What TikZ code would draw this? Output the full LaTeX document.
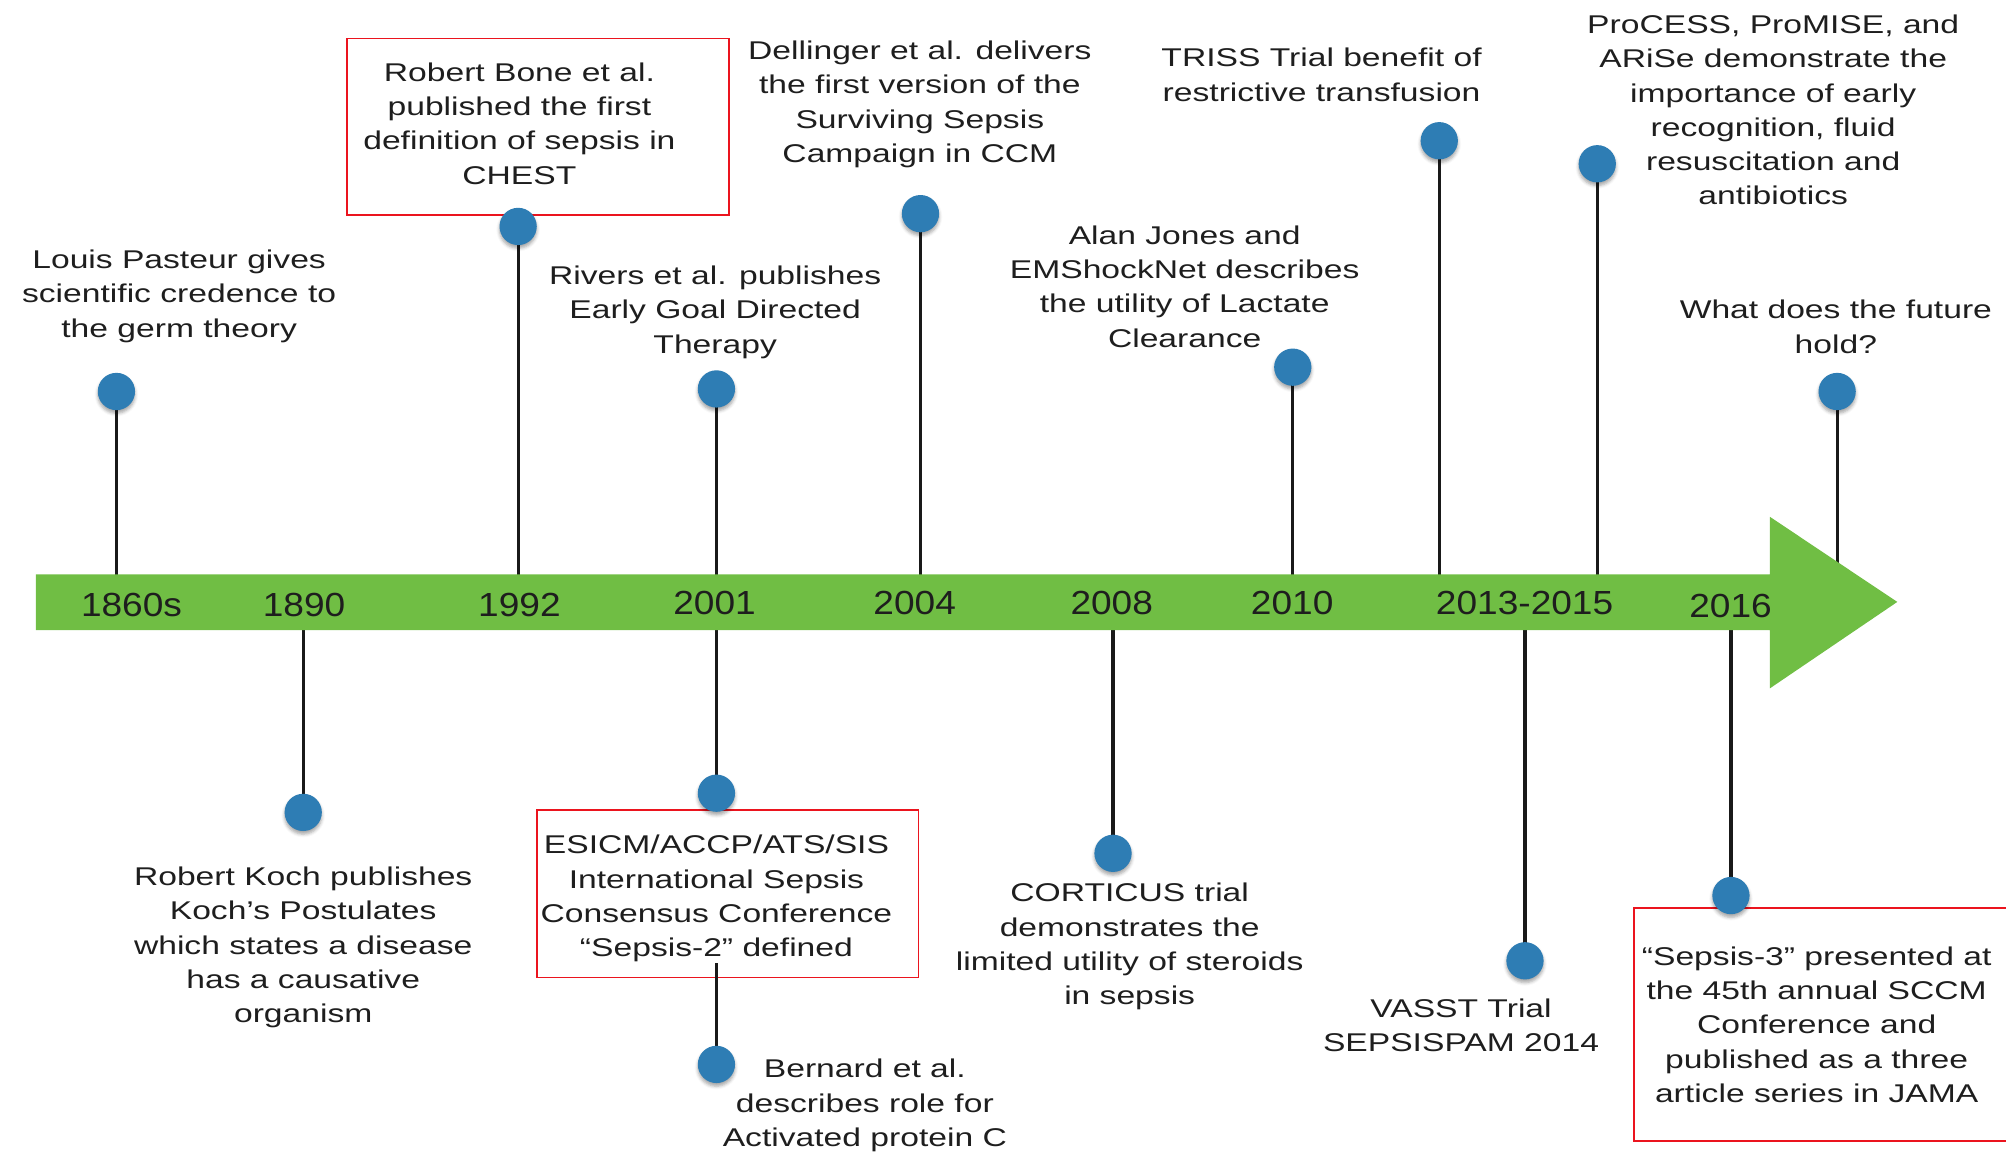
\documentclass[tikz,border=0pt]{standalone}
\usepackage{fontspec}
\usetikzlibrary{shadows.blur}
\newfontfamily\bodyfont{Liberation Sans}[FakeStretch=1.31]
\newfontfamily\yearfont{Liberation Sans}[FakeStretch=1.11]
\definecolor{bargreen}{RGB}{112,190,68}
\definecolor{dotblue}{RGB}{46,125,180}
\definecolor{boxred}{RGB}{235,20,30}
\definecolor{ink}{RGB}{30,30,30}
\tikzset{
  dot/.style={circle, fill=dotblue, inner sep=0pt, minimum size=10.6pt,
    blur shadow={shadow xshift=0pt, shadow yshift=-0.9pt, shadow blur radius=0.9pt, shadow opacity=35}},
  stem/.style={draw=black!90, line width=0.9pt},
  event/.style={align=center, inner sep=0pt, text=ink,
    font=\bodyfont\fontsize{7.3pt}{9.75pt}\selectfont},
  year/.style={inner sep=0pt, text=ink, font=\yearfont\fontsize{9.5pt}{11pt}\selectfont},
  redframe/.style={draw=boxred, line width=0.5pt},
}
\begin{document}
\begin{tikzpicture}[x=0.012793cm, y=-0.012793cm]
\useasboundingbox (0,0) rectangle (1568,904);

% marker positions
\coordinate (p1860) at (91,306);
\coordinate (p1992) at (405,177);
\coordinate (p2001a) at (560,304);
\coordinate (p2004) at (719.5,167);
\coordinate (p2010) at (1010.5,287);
\coordinate (ptriss) at (1125,110);
\coordinate (pprocess) at (1248.5,128);
\coordinate (pfuture) at (1436,306);
\coordinate (p1890) at (237,635);
\coordinate (p2001b) at (560,620);
\coordinate (pbernard) at (560,832);
\coordinate (p2008) at (870,667);
\coordinate (pvasst) at (1192,751);
\coordinate (p2016) at (1353,700);
\coordinate (barmid) at (0,470);
\coordinate (fut-end) at (1436,441);
\coordinate (s2-end) at (560,753);

% highlighted milestones
\draw[redframe] (271,30) rectangle (570,168);
\draw[redframe] (420,633) rectangle (718,764);
\draw[redframe] (1600,710) -- (1277,710) -- (1277,892) -- (1600,892);

% stems
\draw[stem] (p1860) -- (p1860 |- barmid);
\draw[stem] (p1992) -- (p1992 |- barmid);
\draw[stem] (p2001a) -- (p2001a |- barmid);
\draw[stem] (p2004) -- (p2004 |- barmid);
\draw[stem] (p2010) -- (p2010 |- barmid);
\draw[stem] (ptriss) -- (ptriss |- barmid);
\draw[stem] (pprocess) -- (pprocess |- barmid);
\draw[stem] (pfuture) -- (fut-end);
\draw[stem] (p1890) -- (p1890 |- barmid);
\draw[stem] (p2001b) -- (p2001b |- barmid);
\draw[stem] (s2-end) -- (pbernard);
\draw[stem] (p2008) -- (p2008 |- barmid);
\draw[stem] (pvasst) -- (pvasst |- barmid);
\draw[stem] (p2016) -- (p2016 |- barmid);

% timeline bar with arrow head
\fill[bargreen] (28,449) -- (1383.5,449) -- (1383.5,404) -- (1483,470.5)
  -- (1383.5,538) -- (1383.5,492.5) -- (28,492.5) -- cycle;

% years on the bar
\node[year] (y1860) at (102.8,473) {1860s};
\node[year] (y1890) at (237.7,473) {1890};
\node[year] (y1992) at (406,473) {1992};
\node[year] (y2001) at (558.5,471.5) {2001};
\node[year] (y2004) at (715,471.5) {2004};
\node[year] (y2008) at (869,471) {2008};
\node[year] (y2010) at (1010,471) {2010};
\node[year] (y2013) at (1191.7,471) {2013-2015};
\node[year] (y2016) at (1352.7,474) {2016};

% event descriptions
\node[event] (t1860) at (140,231.5) {Louis Pasteur gives\\scientific credence to\\the germ theory};
\node[event] (t1992) at (406,96.5) {Robert Bone et al.\\published the first\\definition of sepsis in\\CHEST};
\node[event] (t2001a) at (559,244) {Rivers et al. publishes\\Early Goal Directed\\Therapy};
\node[event] (t2004) at (719,81.5) {Dellinger et al. delivers\\the first version of the\\Surviving Sepsis\\Campaign in CCM};
\node[event] (t2010) at (926,224) {Alan Jones and\\EMShockNet describes\\the utility of Lactate\\Clearance};
\node[event] (ttriss) at (1033,58.5) {TRISS Trial benefit of\\restrictive transfusion};
\node[event] (tprocess) at (1386,86) {ProCESS, ProMISE, and\\ARiSe demonstrate the\\importance of early\\recognition, fluid\\resuscitation and\\antibiotics};
\node[event] (tfuture) at (1435,255.5) {What does the future\\hold?};
\node[event] (t1890) at (237,740.5) {Robert Koch publishes\\Koch’s Postulates\\which states a disease\\has a causative\\organism};
\node[event] (t2001b) at (560,702.5) {ESICM/ACCP/ATS/SIS\\International Sepsis\\Consensus Conference\\“Sepsis-2” defined};
\node[event] (tbernard) at (676,864) {Bernard et al.\\describes role for\\Activated protein C};
\node[event] (t2008) at (883,740) {CORTICUS trial\\demonstrates the\\limited utility of steroids\\in sepsis};
\node[event] (tvasst) at (1142,801.5) {VASST Trial\\SEPSISPAM 2014};
\node[event] (t2016) at (1420,801) {“Sepsis-3” presented at\\the 45th annual SCCM\\Conference and\\published as a three\\article series in JAMA};

% event markers
\node[dot] (d1860) at (p1860) {};
\node[dot] (d1992) at (p1992) {};
\node[dot] (d2001a) at (p2001a) {};
\node[dot] (d2004) at (p2004) {};
\node[dot] (d2010) at (p2010) {};
\node[dot] (dtriss) at (ptriss) {};
\node[dot] (dprocess) at (pprocess) {};
\node[dot] (dfuture) at (pfuture) {};
\node[dot] (d1890) at (p1890) {};
\node[dot] (d2001b) at (p2001b) {};
\node[dot] (dbernard) at (pbernard) {};
\node[dot] (d2008) at (p2008) {};
\node[dot] (dvasst) at (pvasst) {};
\node[dot] (d2016) at (p2016) {};
\end{tikzpicture}
\end{document}
